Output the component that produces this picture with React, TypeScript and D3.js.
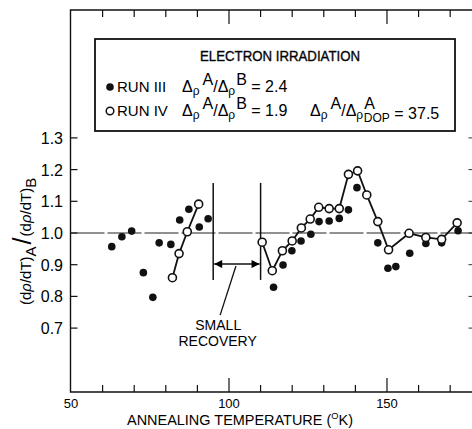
import { useEffect, useRef } from 'react';
import * as d3 from 'd3';

// --- datos ---
const run3T = [62.9, 66.1, 69.2, 72.9, 75.9, 77.9, 81.6, 84.4, 87.3, 90.6, 93.4, 114.1, 117.1, 119.9, 122.8, 125.9, 128.5, 131.7, 134.9, 137.8, 140.5, 147.1, 150.3, 152.8, 157.2, 162.3, 167.3, 172.5];
const run3V = [0.957, 0.988, 1.006, 0.875, 0.797, 0.969, 0.964, 1.041, 1.075, 1.019, 1.045, 0.829, 0.899, 0.944, 0.975, 0.996, 1.036, 1.038, 1.046, 1.073, 1.143, 0.969, 0.889, 0.894, 0.936, 0.967, 0.969, 1.007];

const run4T = [82.1, 84.2, 86.8, 90.4, 110.5, 113.7, 116.9, 120.0, 122.9, 125.7, 128.4, 131.7, 134.9, 137.8, 140.7, 143.6, 147.1, 150.5, 157.0, 162.3, 167.3, 172.2];
const run4V = [0.859, 0.935, 1.004, 1.091, 0.971, 0.881, 0.944, 0.975, 1.016, 1.044, 1.081, 1.077, 1.077, 1.185, 1.196, 1.120, 1.036, 0.947, 0.999, 0.986, 0.980, 1.032];

const xMajor = [50, 100, 150];
const xMinor = [60, 70, 80, 90, 110, 120, 130, 140, 160, 170];
const yTicks = [0.7, 0.8, 0.9, 1.0, 1.1, 1.2, 1.3];

// zona de "small recovery"
const recoveryT = [95, 110];
const recoveryV = [0.852, 1.158];
const arrowV = 0.902;
const pointerT = [102.2, 97.2];
const pointerV = [0.896, 0.741];

const FONT = "'Liberation Sans', Arial, sans-serif";

const Chart = () => {
  const ref = useRef<SVGSVGElement>(null);

  useEffect(() => {
    if (!ref.current) return;
    const svg = d3.select(ref.current);
    svg.selectAll('*').remove();

    const x = d3.scaleLinear().domain([50, 177]).range([71, 472.3]);
    const y = d3.scaleLinear().domain([0.5, 1.7]).range([391.5, 11.1]);
    const left = 70.5, top = 10, bottom = 392, right = 474;

    const defs = svg.append('defs');
    defs.append('marker')
      .attr('id', 'ah').attr('viewBox', '0 0 10 10').attr('refX', 10).attr('refY', 5)
      .attr('markerWidth', 10).attr('markerHeight', 8).attr('markerUnits', 'userSpaceOnUse')
      .attr('orient', 'auto-start-reverse')
      .append('path').attr('d', 'M0,0 L10,5 L0,10 Z').attr('fill', '#000');

    const g = svg.append('g');

    // marco
    g.append('path')
      .attr('d', `M${right},${top} H${left} V${bottom} H${right}`)
      .attr('fill', 'none').attr('stroke', '#111').attr('stroke-width', 1.4);

    // ticks eje x (abajo y arriba, hacia dentro)
    const tickLen = (v: number) => (xMajor.includes(v) ? 14 : 7);
    [...xMajor.filter(v => v > 50), ...xMinor].forEach(v => {
      g.append('line').attr('x1', x(v)).attr('x2', x(v)).attr('y1', bottom).attr('y2', bottom - tickLen(v))
        .attr('stroke', '#111').attr('stroke-width', 1.2);
      g.append('line').attr('x1', x(v)).attr('x2', x(v)).attr('y1', top).attr('y2', top + tickLen(v))
        .attr('stroke', '#111').attr('stroke-width', 1.2);
    });
    xMajor.forEach(v => {
      g.append('text').attr('x', x(v)).attr('y', 408).attr('text-anchor', 'middle')
        .style('font-family', FONT).style('font-size', '13px').text(v);
    });

    // ticks eje y
    yTicks.forEach(v => {
      g.append('line').attr('x1', left).attr('x2', left + 7).attr('y1', y(v)).attr('y2', y(v))
        .attr('stroke', '#111').attr('stroke-width', 1.2);
      g.append('line').attr('x1', 468.5).attr('x2', 472).attr('y1', y(v)).attr('y2', y(v))
        .attr('stroke', '#333').attr('stroke-width', 1);
      g.append('text').attr('x', 63).attr('y', y(v) + 6).attr('text-anchor', 'end')
        .style('font-family', FONT).style('font-size', '16px').text(v.toFixed(1));
    });

    // línea de referencia en 1.0
    g.append('line').attr('x1', left).attr('x2', 472).attr('y1', y(1)).attr('y2', y(1))
      .attr('stroke', '#222').attr('stroke-width', 1).attr('stroke-dasharray', '34,3');

    // título eje x
    const xt = g.append('text').attr('x', 127).attr('y', 425)
      .attr('textLength', 226).attr('lengthAdjust', 'spacingAndGlyphs')
      .style('font-family', FONT).style('font-size', '14px');
    xt.append('tspan').text('ANNEALING TEMPERATURE (');
    xt.append('tspan').attr('dy', -6).style('font-size', '9px').text('O');
    xt.append('tspan').attr('dy', 6).text('K)');

    // título eje y
    const yt = g.append('text').attr('transform', `translate(31,${y(1) + 72}) rotate(-90)`)
      .style('font-family', FONT).style('font-size', '15px');
    yt.append('tspan').text('(d');
    yt.append('tspan').style('font-style', 'italic').text('ρ');
    yt.append('tspan').text('/dT)');
    yt.append('tspan').attr('dy', 5).text('A');
    yt.append('tspan').attr('dy', -5).attr('dx', 2).style('font-size', '25px').text('/');
    yt.append('tspan').attr('dx', 1).text('(d');
    yt.append('tspan').style('font-style', 'italic').text('ρ');
    yt.append('tspan').text('/dT)');
    yt.append('tspan').attr('dy', 5).text('B');

    // marcadores de recuperación
    recoveryT.forEach(t => {
      g.append('line').attr('x1', x(t)).attr('x2', x(t)).attr('y1', y(recoveryV[1])).attr('y2', y(recoveryV[0]))
        .attr('stroke', '#111').attr('stroke-width', 1.5);
    });
    g.append('line')
      .attr('x1', x(recoveryT[0]) + 1).attr('x2', x(recoveryT[1]) - 1)
      .attr('y1', y(arrowV)).attr('y2', y(arrowV))
      .attr('stroke', '#111').attr('stroke-width', 1.5)
      .attr('marker-start', 'url(#ah)').attr('marker-end', 'url(#ah)');
    g.append('line')
      .attr('x1', x(pointerT[0])).attr('y1', y(pointerV[0]))
      .attr('x2', x(pointerT[1])).attr('y2', y(pointerV[1]))
      .attr('stroke', '#111').attr('stroke-width', 1.3);
    g.append('text').attr('x', x(96.6)).attr('y', 330).attr('text-anchor', 'middle')
      .style('font-family', FONT).style('font-size', '14px').text('SMALL');
    g.append('text').attr('x', x(96.4)).attr('y', 346).attr('text-anchor', 'middle')
      .style('font-family', FONT).style('font-size', '14px').text('RECOVERY');

    // RUN IV: dos tramos separados por la zona de recuperación
    const run4 = run4T.map((t, i) => ({ t, v: run4V[i] }));
    const line = d3.line<{ t: number; v: number }>().x(d => x(d.t)).y(d => y(d.v));
    [run4.filter(d => d.t < recoveryT[0]), run4.filter(d => d.t > recoveryT[1])].forEach(seg => {
      g.append('path').datum(seg).attr('d', line).attr('fill', 'none')
        .attr('stroke', '#111').attr('stroke-width', 1.8);
    });

    // RUN III (puntos llenos)
    run3T.forEach((t, i) => {
      g.append('circle').attr('cx', x(t)).attr('cy', y(run3V[i])).attr('r', 3.8).attr('fill', '#111');
    });
    // RUN IV (puntos abiertos)
    run4.forEach(d => {
      g.append('circle').attr('cx', x(d.t)).attr('cy', y(d.v)).attr('r', 4)
        .attr('fill', '#fff').attr('stroke', '#111').attr('stroke-width', 1.6);
    });

    // --- leyenda ---
    g.append('rect').attr('x', 95).attr('y', 39).attr('width', 360).attr('height', 92)
      .attr('fill', '#fff').attr('stroke', '#111').attr('stroke-width', 1.8);
    g.append('text').attr('x', 200).attr('y', 61).attr('textLength', 160).attr('lengthAdjust', 'spacingAndGlyphs')
      .attr('stroke', '#111').attr('stroke-width', 0.4)
      .style('font-family', FONT).style('font-size', '15px').text('ELECTRON IRRADIATION');

    const ratio = (xx: number, yy: number, sup2: string, val: string, dop = false) => {
      const tx = g.append('text').attr('x', xx).attr('y', yy)
        .style('font-family', FONT).style('font-size', '16px');
      tx.append('tspan').text('Δ');
      tx.append('tspan').attr('dy', 3).style('font-size', '12px').text('ρ');
      tx.append('tspan').attr('dy', -10).attr('dx', 3).text('A');
      tx.append('tspan').attr('dy', 7).text('/Δ');
      tx.append('tspan').attr('dy', 3).style('font-size', '12px').text('ρ');
      tx.append('tspan').attr('dy', -10).attr('dx', 1).text(sup2);
      if (dop) {
        tx.append('tspan').attr('dy', 13).attr('dx', -11).style('font-size', '12px').text('DOP');
        tx.append('tspan').attr('dy', -3).text(' = ' + val);
      } else {
        tx.append('tspan').attr('dy', 7).text(' = ' + val);
      }
    };

    g.append('circle').attr('cx', 110).attr('cy', 87).attr('r', 3.8).attr('fill', '#111');
    g.append('text').attr('x', 117).attr('y', 92).style('font-family', FONT).style('font-size', '15px').text('RUN III');
    ratio(182, 92, 'B', '2.4');

    g.append('circle').attr('cx', 110).attr('cy', 111).attr('r', 3.8).attr('fill', '#fff')
      .attr('stroke', '#111').attr('stroke-width', 1.5);
    g.append('text').attr('x', 117).attr('y', 116).style('font-family', FONT).style('font-size', '15px').text('RUN IV');
    ratio(182, 116, 'B', '1.9');
    ratio(310, 116, 'A', '37.5', true);
  }, []);

  return (
    <svg ref={ref} width={472} height={429} viewBox="0 0 472 429"
      style={{ position: 'absolute', left: 0, top: 0, background: '#fff' }} />
  );
};

export default function App() {
  return <Chart />;
}
